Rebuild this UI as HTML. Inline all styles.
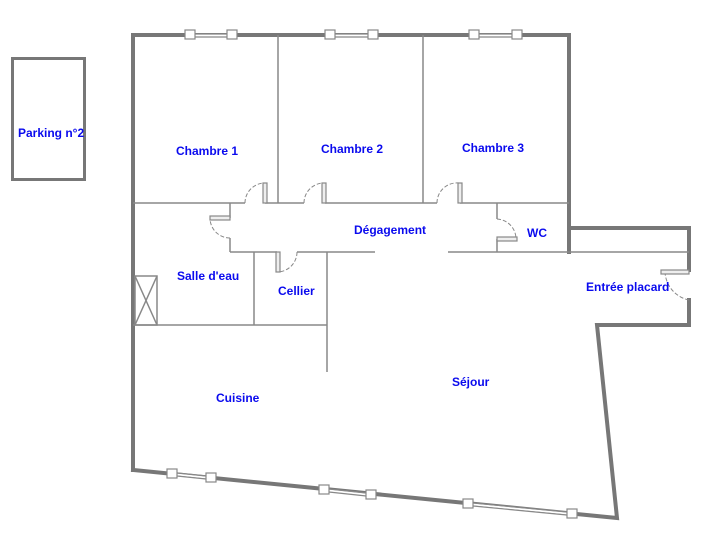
<!DOCTYPE html>
<html><head><meta charset="utf-8"><style>
body{margin:0;background:#fff;width:704px;height:537px;overflow:hidden}
text{font-family:"Liberation Sans",sans-serif;font-weight:bold;font-size:12px;fill:#0a0aee}
</style></head><body>
<svg width="704" height="537" viewBox="0 0 704 537">
<g fill="none" stroke="#777" stroke-linecap="square">
<rect x="12.5" y="58.5" width="72" height="121" stroke-width="3"/>
<polyline points="133,470 133,35 569,35 569,228 689,228 689,270" stroke-width="4"/>
<polyline points="689,300 689,325 597,325 617,518 133,470" stroke-width="4"/>
<line x1="569" y1="228" x2="569" y2="252" stroke-width="4"/>
</g>
<g stroke="#888" stroke-width="1.5" fill="none">
<line x1="278" y1="35" x2="278" y2="203"/>
<line x1="423" y1="35" x2="423" y2="203"/>
<line x1="133" y1="203" x2="245" y2="203"/>
<line x1="265" y1="203" x2="304" y2="203"/>
<line x1="325" y1="203" x2="437" y2="203"/>
<line x1="460" y1="203" x2="569" y2="203"/>
<line x1="230" y1="203" x2="230" y2="218"/>
<line x1="230" y1="238" x2="230" y2="252"/>
<line x1="230" y1="252" x2="277" y2="252"/>
<line x1="297" y1="252" x2="375" y2="252"/>
<line x1="448" y1="252" x2="689" y2="252"/>
<line x1="497" y1="203" x2="497" y2="219"/>
<line x1="497" y1="239" x2="497" y2="252"/>
<line x1="254" y1="252" x2="254" y2="325"/>
<line x1="327" y1="252" x2="327" y2="372"/>
<line x1="133" y1="325" x2="327" y2="325"/>
<rect x="135" y="276" width="22" height="49"/>
<line x1="135" y1="276" x2="157" y2="325"/>
<line x1="157" y1="276" x2="135" y2="325"/>
</g>
<g stroke="#888" stroke-width="1" fill="none" stroke-dasharray="4,2">
<path d="M245,203 A20,20 0 0 1 265,183"/>
<path d="M304,203 A20,20 0 0 1 324,183"/>
<path d="M437,203 A20,20 0 0 1 459,183"/>
<path d="M230,238 A20,20 0 0 1 210,218"/>
<path d="M497,219 A20,20 0 0 1 516,239"/>
<path d="M297,252 A20,20 0 0 1 277,272"/>
<path d="M689,300 A30,30 0 0 1 665,270"/>
</g>
<g stroke="#888" stroke-width="1.2" fill="#eee">
<rect x="263" y="183" width="4" height="20"/>
<rect x="322" y="183" width="4" height="20"/>
<rect x="458" y="183" width="4" height="20"/>
<rect x="210" y="216" width="20" height="4"/>
<rect x="497" y="237" width="20" height="4"/>
<rect x="276" y="252" width="4" height="20"/>
<rect x="661" y="270" width="28" height="4"/>
</g>
<g stroke="#fff" stroke-width="2">
<line x1="190" y1="35.5" x2="232" y2="35.5"/>
<line x1="330" y1="35.5" x2="373" y2="35.5"/>
<line x1="474" y1="35.5" x2="517" y2="35.5"/>
<line x1="172" y1="474" x2="211" y2="478"/>
<line x1="324" y1="490" x2="371" y2="495"/>
<line x1="468" y1="504" x2="572" y2="514"/>
</g>
<g stroke="#888" stroke-width="1.2" fill="#fff">
<line x1="190" y1="34" x2="232" y2="34"/><line x1="190" y1="37" x2="232" y2="37"/>
<line x1="330" y1="34" x2="373" y2="34"/><line x1="330" y1="37" x2="373" y2="37"/>
<line x1="474" y1="34" x2="517" y2="34"/><line x1="474" y1="37" x2="517" y2="37"/>
<line x1="172" y1="472.5" x2="211" y2="476.5"/><line x1="172" y1="475.5" x2="211" y2="479.5"/>
<line x1="324" y1="488.5" x2="371" y2="493.5"/><line x1="324" y1="491.5" x2="371" y2="496.5"/>
<line x1="468" y1="502.5" x2="572" y2="512.5"/><line x1="468" y1="505.5" x2="572" y2="515.5"/>
<rect x="185" y="30" width="10" height="9"/><rect x="227" y="30" width="10" height="9"/>
<rect x="325" y="30" width="10" height="9"/><rect x="368" y="30" width="10" height="9"/>
<rect x="469" y="30" width="10" height="9"/><rect x="512" y="30" width="10" height="9"/>
<rect x="167" y="469" width="10" height="9"/><rect x="206" y="473" width="10" height="9"/>
<rect x="319" y="485" width="10" height="9"/><rect x="366" y="490" width="10" height="9"/>
<rect x="463" y="499" width="10" height="9"/><rect x="567" y="509" width="10" height="9"/>
</g>
<text x="18" y="137">Parking n°2</text>
<text x="176" y="155">Chambre 1</text>
<text x="321" y="153">Chambre 2</text>
<text x="462" y="152">Chambre 3</text>
<text x="354" y="234">Dégagement</text>
<text x="527" y="237">WC</text>
<text x="177" y="280">Salle d'eau</text>
<text x="278" y="295">Cellier</text>
<text x="586" y="291">Entrée placard</text>
<text x="452" y="386">Séjour</text>
<text x="216" y="402">Cuisine</text>
</svg>
</body></html>
